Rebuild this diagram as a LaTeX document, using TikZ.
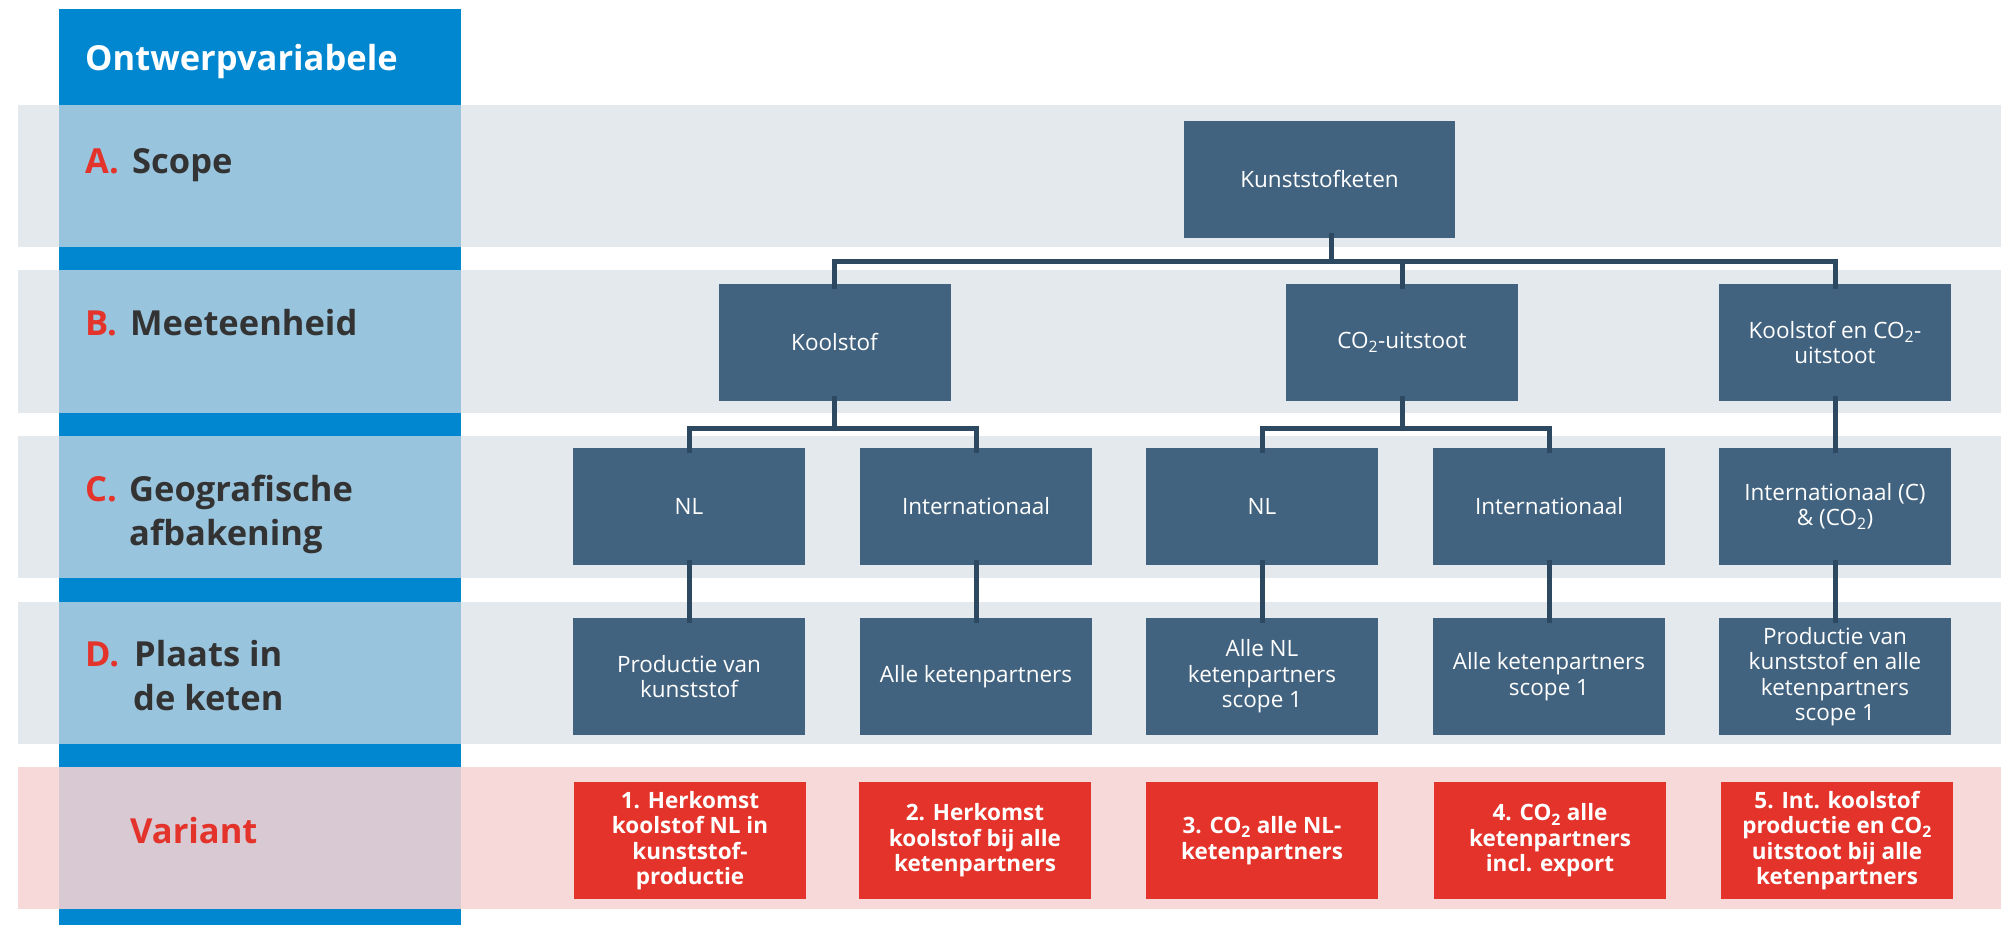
\documentclass[tikz,border=0pt]{standalone}
\usepackage{fontspec}
\setmainfont{Open Sans}
\definecolor{colblue}{HTML}{0087CF}
\definecolor{collight}{HTML}{98C4DD}
\definecolor{bandgray}{HTML}{E3E9ED}
\definecolor{bandpink}{HTML}{F8D9D9}
\definecolor{colpink}{HTML}{D8C9D3}
\definecolor{boxblue}{HTML}{42637F}
\definecolor{linkblue}{HTML}{2D4961}
\definecolor{varred}{HTML}{E4332A}
\definecolor{labgray}{HTML}{333333}
\begin{document}
\begin{tikzpicture}[x=1pt,y=-1pt,
  box/.style={fill=boxblue, minimum width=232pt, minimum height=117pt, inner sep=0pt,
    text=white, align=center, font=\fontsize{22.5}{25.5}\selectfont},
  varbox/.style={box, fill=varred, font=\fontsize{22.5}{25.5}\selectfont\bfseries},
  lbl/.style={anchor=base west, inner sep=0pt, font=\fontsize{34.5}{44}\selectfont\bfseries},
  conn/.style={draw=linkblue, line width=5pt, line join=miter, shorten <=-5pt},
  straight/.style={conn, shorten >=-5pt}]
\useasboundingbox (0,0) rectangle (2001,925);

% left column
\fill[colblue] (59,9) rectangle (461,925);
% row bands
\foreach \ya/\yb in {105/247, 270/413, 436/578, 602/744}{
  \fill[bandgray] (18,\ya) rectangle (2001,\yb);
  \fill[collight] (59,\ya) rectangle (461,\yb);
}
\fill[bandpink] (18,767) rectangle (2001,909);
\fill[colpink] (59,767) rectangle (461,909);

% row labels
\node[lbl, text=white] (hdr) at (85,71) {Ontwerpvariabele};
\node[lbl, text=varred] (kA) at (85,174) {A.};
\node[lbl, text=labgray] (tA) at (132,174) {Scope};
\node[lbl, text=varred] (kB) at (85,335) {B.};
\node[lbl, text=labgray] (tB) at (130,335) {Meeteenheid};
\node[lbl, text=varred] (kC) at (85,501) {C.};
\node[lbl, text=labgray] (tC1) at (129,501) {Geografische};
\node[lbl, text=labgray] (tC2) at (129,545) {afbakening};
\node[lbl, text=varred] (kD) at (85,666) {D.};
\node[lbl, text=labgray] (tD1) at (134,666) {Plaats in};
\node[lbl, text=labgray] (tD2) at (133,710) {de keten};
\node[lbl, text=varred] (tV) at (130,843) {Variant};

% tree
\node[box, minimum width=271pt] (root) at (1319.5,179.5) {Kunststofketen};

\node[box] (bK)  at (834.5,342.5) {Koolstof};
\node[box] (bC)  at (1402,342.5)  {CO\textsubscript{2}-uitstoot};
\node[box] (bKC) at (1835,342.5)  {Koolstof en CO\textsubscript{2}-\\uitstoot};

\node[box] (c1) at (689,506.5)  {NL};
\node[box] (c2) at (976,506.5)  {Internationaal};
\node[box] (c3) at (1262,506.5) {NL};
\node[box] (c4) at (1549,506.5) {Internationaal};
\node[box] (c5) at (1835,506.5) {Internationaal (C)\\\& (CO\textsubscript{2})};

\node[box] (d1) at (689,676.5)  {Productie van\\kunststof};
\node[box] (d2) at (976,676.5)  {Alle ketenpartners};
\node[box] (d3) at (1262,676.5) {Alle NL\\ketenpartners\\scope 1};
\node[box] (d4) at (1549,676.5) {Alle ketenpartners\\scope 1};
\node[box] (d5) at (1835,676.5) {Productie van\\kunststof en alle\\ketenpartners\\scope 1};

\node[varbox] (v1) at (690,840.5)  {1. Herkomst\\koolstof NL in\\kunststof-\\productie};
\node[varbox] (v2) at (975,840.5)  {2. Herkomst\\koolstof bij alle\\ketenpartners};
\node[varbox] (v3) at (1262,840.5) {3. CO\textsubscript{2} alle NL-\\ketenpartners};
\node[varbox] (v4) at (1550,840.5) {4. CO\textsubscript{2} alle\\ketenpartners\\incl. export};
\node[varbox] (v5) at (1837,840.5) {5. Int. koolstof\\productie en CO\textsubscript{2}\\uitstoot bij alle\\ketenpartners};

% connectors
\coordinate (j0) at (1331,262);
\coordinate (j1) at (834.5,428);
\coordinate (j2) at (1402,428);
\draw[conn] ([xshift=11.5pt]root.south) -- (j0);
\draw[conn] (bK.north) |- (j0);
\draw[conn] (bC.north) |- (j0);
\draw[conn] (bKC.north) |- (j0);
\draw[conn] (bK.south) -- (j1);
\draw[conn] (c1.north) |- (j1);
\draw[conn] (c2.north) |- (j1);
\draw[conn] (bC.south) -- (j2);
\draw[conn] (c3.north) |- (j2);
\draw[conn] (c4.north) |- (j2);
\draw[straight] (bKC.south) -- (c5.north);
\foreach \i in {1,...,5}{
  \draw[straight] (c\i.south) -- (d\i.north);
}
\end{tikzpicture}
\end{document}
